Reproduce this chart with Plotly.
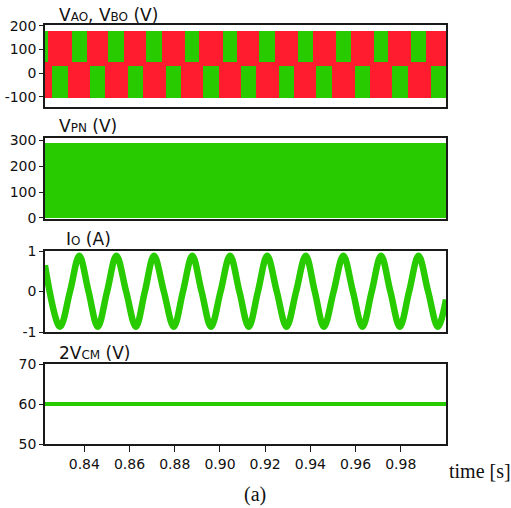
import plotly.graph_objects as go

# ---------------- data ----------------
T_START = 0.8226
T_END = 1.0

# Panel 1: VAO / VBO switching envelopes
V_HIGH = 180          # top of switching band (V)
V_LOW = -105          # bottom of switching band (V)
V_UPPER_SPLIT = 45    # lower edge of the upper green blocks
V_LOWER_SPLIT = 30    # upper edge of the lower green blocks
upper_green_start = [0.82257, 0.83455, 0.85064, 0.86736, 0.88466, 0.90120,
                     0.91747, 0.93463, 0.95131, 0.96816, 0.98444]
upper_green_end = [0.82390, 0.84106, 0.85774, 0.87432, 0.89086, 0.90772,
                   0.92426, 0.94129, 0.95783, 0.97437, 0.99122]
lower_green_start = [0.82568, 0.84253, 0.85938, 0.87623, 0.89264, 0.90949,
                     0.92603, 0.94244, 0.95960, 0.97614, 0.99330]
lower_green_end = [0.83277, 0.84931, 0.86616, 0.88288, 0.89942, 0.91601,
                   0.93286, 0.94953, 0.96638, 0.98297, 1.00000]

# Panel 2: VPN envelope
VPN_LEVEL = 288

# Panel 3: Io, extrema and zero crossings
io_t = [0.82257, 0.82922, 0.83366, 0.83778, 0.84186, 0.84594, 0.85007, 0.85419,
        0.85849, 0.86279, 0.86678, 0.87082, 0.87517, 0.87956, 0.88364, 0.88776,
        0.89188, 0.89605, 0.90027, 0.90448, 0.90860, 0.91273, 0.91681, 0.92089,
        0.92514, 0.92944, 0.93370, 0.93796, 0.94195, 0.94599, 0.95029, 0.95459,
        0.95880, 0.96302, 0.96714, 0.97126, 0.97539, 0.97956, 0.98368, 0.98785,
        0.99210, 0.99640, 1.00000]
io_v = [0.65, -0.87, 0.0, 0.88, 0.0, -0.87, 0.0, 0.88,
        0.0, -0.87, 0.0, 0.88, 0.0, -0.87, 0.0, 0.88,
        0.0, -0.87, 0.0, 0.88, 0.0, -0.87, 0.0, 0.88,
        0.0, -0.87, 0.0, 0.88, 0.0, -0.87, 0.0, 0.88,
        0.0, -0.87, 0.0, 0.88, 0.0, -0.87, 0.0, 0.88,
        0.0, -0.87, -0.2]

# Panel 4: 2VCM
VCM_LEVEL = 60

# tick labels
x_ticks = [0.84, 0.86, 0.88, 0.90, 0.92, 0.94, 0.96, 0.98]
x_ticktext = ["0.84", "0.86", "0.88", "0.90", "0.92", "0.94", "0.96", "0.98"]
y1_ticks = [-100, 0, 100, 200]
y2_ticks = [0, 100, 200, 300]
y3_ticks = [-1, 0, 1]
y4_ticks = [50, 60, 70]

RED = "#FF1C2E"
GREEN = "#28CA00"

# ---------------- figure ----------------
fig = go.Figure()

span = T_END - T_START
mid = (T_START + T_END) / 2

# Panel 1
fig.add_trace(go.Bar(x=[mid], y=[V_HIGH - V_LOW], base=[V_LOW], width=[span],
                     marker=dict(color=RED, line=dict(width=0)),
                     xaxis="x", yaxis="y", hoverinfo="skip"))
fig.add_trace(go.Bar(x=[(a + b) / 2 for a, b in zip(upper_green_start, upper_green_end)],
                     y=[V_HIGH - V_UPPER_SPLIT] * len(upper_green_start),
                     base=[V_UPPER_SPLIT] * len(upper_green_start),
                     width=[b - a for a, b in zip(upper_green_start, upper_green_end)],
                     marker=dict(color=GREEN, line=dict(width=0)),
                     xaxis="x", yaxis="y", hoverinfo="skip"))
fig.add_trace(go.Bar(x=[(a + b) / 2 for a, b in zip(lower_green_start, lower_green_end)],
                     y=[V_LOWER_SPLIT - V_LOW] * len(lower_green_start),
                     base=[V_LOW] * len(lower_green_start),
                     width=[b - a for a, b in zip(lower_green_start, lower_green_end)],
                     marker=dict(color=GREEN, line=dict(width=0)),
                     xaxis="x", yaxis="y", hoverinfo="skip"))

# Panel 2
fig.add_trace(go.Bar(x=[mid], y=[VPN_LEVEL], base=[0], width=[span],
                     marker=dict(color=GREEN, line=dict(width=0)),
                     xaxis="x2", yaxis="y2", hoverinfo="skip"))

# Panel 3
fig.add_trace(go.Scatter(x=io_t, y=io_v, mode="lines",
                         line=dict(color=GREEN, width=6.5, shape="spline", smoothing=1.0),
                         xaxis="x3", yaxis="y3", hoverinfo="skip"))

# Panel 4
fig.add_trace(go.Scatter(x=[T_START, T_END], y=[VCM_LEVEL, VCM_LEVEL], mode="lines",
                         line=dict(color=GREEN, width=4),
                         xaxis="x4", yaxis="y4", hoverinfo="skip"))

FONT = "DejaVu Sans"
axis_common = dict(showline=True, mirror=True, linecolor="#1a1a1a", linewidth=1.5,
                   showgrid=False, zeroline=False, automargin=False)
xr = [T_START, T_END]


def xax(show):
    d = dict(axis_common, range=xr)
    if show:
        d.update(tickmode="array", tickvals=x_ticks, ticktext=x_ticktext,
                 ticks="outside", ticklen=6, tickcolor="#1a1a1a",
                 tickfont=dict(family=FONT, size=14, color="#111"))
    else:
        d.update(showticklabels=False, ticks="")
    return d


def yax(domain, rng, ticks, anchor):
    return dict(axis_common, domain=domain, range=rng, anchor=anchor,
                tickmode="array", tickvals=ticks, ticktext=[str(t) for t in ticks],
                ticks="outside", ticklen=4, tickcolor="#1a1a1a",
                tickfont=dict(family=FONT, size=14, color="#111"))


H_TOP = 25
H_BOT = 444
PH = H_BOT - H_TOP


def dom(top_px, bot_px):
    return [(H_BOT - bot_px) / PH, (H_BOT - top_px) / PH]


fig.update_layout(
    width=511, height=508,
    margin=dict(l=45, r=65, t=H_TOP, b=508 - H_BOT, autoexpand=False),
    paper_bgcolor="white", plot_bgcolor="white",
    showlegend=False, barmode="overlay", bargap=0,
    xaxis=dict(xax(False), anchor="y"),
    xaxis2=dict(xax(False), anchor="y2", matches="x"),
    xaxis3=dict(xax(False), anchor="y3", matches="x"),
    xaxis4=dict(xax(True), anchor="y4", matches="x"),
    yaxis=yax(dom(25, 107), [-144, 204], y1_ticks, "x"),
    yaxis2=yax(dom(138, 219), [-4, 308], y2_ticks, "x2"),
    yaxis3=yax(dom(251, 332), [-1, 1], y3_ticks, "x3"),
    yaxis4=yax(dom(364, 444), [50, 70], y4_ticks, "x4"),
)


def px_x(x):
    return (x - 45) / 401


def px_y(y):
    return (H_BOT - y) / PH


S = "<span style='font-size:12px'>{}</span>"
titles = [
    ("V" + S.format("AO") + ", V" + S.format("BO") + " (V)", 57, 15),
    ("V" + S.format("PN") + " (V)", 57, 126),
    ("I" + S.format("O") + " (A)", 64, 239),
    ("2V" + S.format("CM") + " (V)", 57, 353),
]
for txt, x, y in titles:
    fig.add_annotation(text=txt, xref="paper", yref="paper", x=px_x(x), y=px_y(y),
                       xanchor="left", yanchor="middle", showarrow=False,
                       font=dict(family=FONT, size=17, color="#111"))

fig.add_annotation(text="time [s]", xref="paper", yref="paper", x=px_x(447), y=px_y(471),
                   xanchor="left", yanchor="middle", showarrow=False,
                   font=dict(family="Liberation Serif", size=20, color="#111"))
fig.add_annotation(text="(a)", xref="paper", yref="paper", x=px_x(255), y=px_y(494),
                   xanchor="center", yanchor="middle", showarrow=False,
                   font=dict(family="Liberation Serif", size=20, color="#111"))

fig.write_html("out.html", config={"displayModeBar": False},
               post_script="document.body.style.margin='0';document.body.style.padding='0';")
